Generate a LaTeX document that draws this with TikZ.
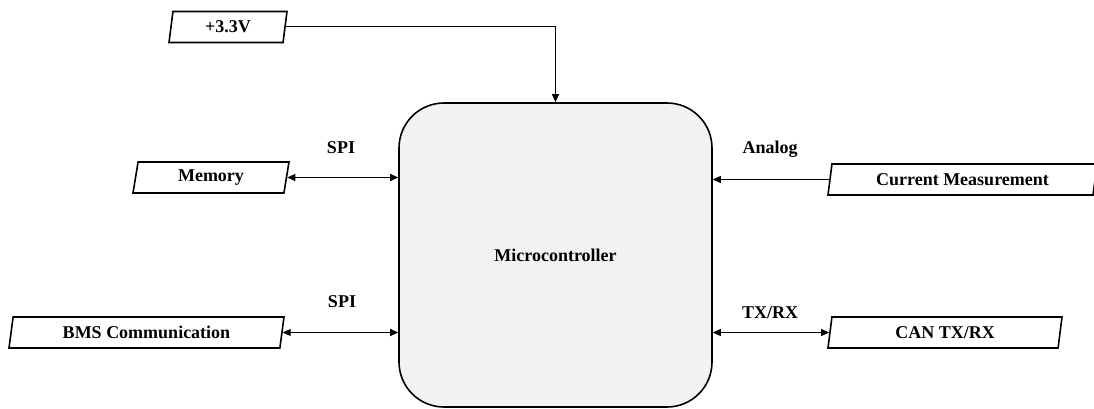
\documentclass[tikz,border=0pt]{standalone}
\usepackage{fontspec}
\setmainfont{Liberation Serif}
\usetikzlibrary{shapes.geometric,arrows.meta}
\tikzset{
  x=1pt, y=-1pt,
  txt/.style={font=\fontsize{18}{20}\selectfont\bfseries},
  io/.style={trapezium, trapezium left angle=72, trapezium right angle=108,
    trapezium stretches body, draw, line width=1.6pt, inner sep=0pt,
    minimum height=31pt, txt},
  mcu/.style={draw, line width=1.6pt, rounded corners=45pt, fill=black!5,
    minimum width=313pt, minimum height=304pt, txt},
  lbl/.style={txt, inner sep=0pt},
  link/.style={line width=1pt, -{Triangle[length=8pt,width=7pt]}},
  bilink/.style={line width=1pt, {Triangle[length=8pt,width=7pt]}-{Triangle[length=8pt,width=7pt]}}
}
\begin{document}
\begin{tikzpicture}
\useasboundingbox (0,0) rectangle (1094,409);

% central controller
\node[mcu] (mc) at (555.5,255) {Microcontroller};

% peripheral blocks
\node[io, minimum width=118pt] (v33) at (228,27) {+3.3V};
\node[io, minimum width=156pt] (mem) at (211,177.5) {Memory};
\node[io, minimum width=275pt] (bms) at (146.5,332.5) {BMS Communication};
\node[io, minimum width=269pt] (cur) at (962.5,179.5) {Current Measurement};
\node[io, minimum width=234pt] (can) at (945,332.5) {CAN TX/RX};

% connections
\draw[link] (v33.east) -| (mc.north);
\draw[bilink] (mem.east) -- (mem.east -| mc.west);
\draw[bilink] (bms.east) -- (bms.east -| mc.west);
\draw[link] (cur.west) -- (cur.west -| mc.east);
\draw[bilink] (can.west -| mc.east) -- (can.west);

% bus labels
\node[lbl] (spia) at (341,148) {SPI};
\node[lbl] (spib) at (342,302) {SPI};
\node[lbl] (ana) at (770,149) {Analog};
\node[lbl] (txrx) at (770,313) {TX/RX};
\end{tikzpicture}
\end{document}
